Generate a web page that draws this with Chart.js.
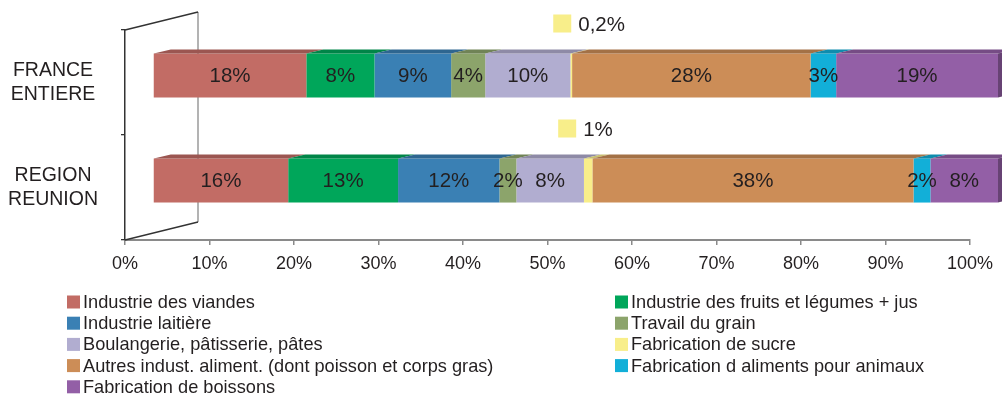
<!DOCTYPE html>
<html lang="fr">
<head>
<meta charset="utf-8">
<title>Répartition des effectifs IAA</title>
<script src="https://cdn.jsdelivr.net/npm/chart.js@4/dist/chart.umd.min.js"></script>
<style>
  html, body { margin: 0; padding: 0; background: #ffffff; }
  canvas { display: block; }
</style>
</head>
<body>
<canvas id="iaaChart" width="1002" height="399"></canvas>
<script>
// Zones comparées
const zones = [['FRANCE', 'ENTIERE'], ['REGION', 'REUNION']];

// Secteurs, dans l'ordre d'empilement
const secteurs = [
    'Industrie des viandes',
    'Industrie des fruits et légumes + jus',
    'Industrie laitière',
    'Travail du grain',
    'Boulangerie, pâtisserie, pâtes',
    'Fabrication de sucre',
    'Autres indust. aliment. (dont poisson et corps gras)',
    'Fabrication d aliments pour animaux',
    'Fabrication de boissons'
];

const couleurs = ['#c26c65', '#00a65a', '#3a80b4', '#8ca46b', '#b1add0', '#f8ee8a', '#cc8d57', '#12afd8', '#935fa6'];

// Parts en % (France entière, Réunion)
const viandes = [18, 16];
const fruitsLegumes = [8, 13];
const laitiere = [9, 12];
const grain = [4, 2];
const boulangerie = [10, 8];
const sucre = [0.2, 1];
const autres = [28, 38];
const animaux = [3, 2];
const boissons = [19, 8];

const xTicks = [0, 10, 20, 30, 40, 50, 60, 70, 80, 90, 100];

const series = [viandes, fruitsLegumes, laitiere, grain, boulangerie, sucre, autres, animaux, boissons];
const SUCRE = 5;

// barres à 100 % : chaque zone est ramenée à son total
const totaux = zones.map((z, j) => series.reduce((s, arr) => s + arr[j], 0));

Chart.defaults.font.family = '"Liberation Sans", Arial, sans-serif';
Chart.defaults.color = '#231f20';

const DEPTH = { x: 73, y: -18 };      // profondeur du mur
const FRONT = { x: 28, y: -7 };       // face avant des barres
const TOP = { x: 17, y: -4 };         // épaisseur des barres

function shade(hex, f) {
    const n = parseInt(hex.slice(1), 16);
    const r = Math.round(((n >> 16) & 255) * f);
    const g = Math.round(((n >> 8) & 255) * f);
    const b = Math.round((n & 255) * f);
    return 'rgb(' + r + ',' + g + ',' + b + ')';
}

function fmt(v) {
    return String(v).replace('.', ',') + '%';
}

const relief = {
    id: 'relief',
    beforeDatasetsDraw(chart) {
        const ctx = chart.ctx;
        const x0 = chart.scales.x.getPixelForValue(0);
        const top = chart.scales.y.top;
        const bottom = chart.scales.y.bottom;

        ctx.save();
        ctx.lineWidth = 1.3;
        ctx.strokeStyle = '#8a8a8a';
        ctx.beginPath();
        ctx.moveTo(x0 + DEPTH.x, top + DEPTH.y);
        ctx.lineTo(x0 + DEPTH.x, bottom + DEPTH.y);
        ctx.stroke();
        ctx.strokeStyle = '#333333';
        ctx.beginPath();
        ctx.moveTo(x0, top);
        ctx.lineTo(x0 + DEPTH.x, top + DEPTH.y);
        ctx.moveTo(x0, bottom);
        ctx.lineTo(x0 + DEPTH.x, bottom + DEPTH.y);
        ctx.stroke();
        ctx.restore();

        ctx.save();
        ctx.translate(FRONT.x, FRONT.y);
    },
    afterDatasetsDraw(chart) {
        const ctx = chart.ctx;
        const last = chart.data.datasets.length - 1;

        chart.data.datasets.forEach((ds, i) => {
            chart.getDatasetMeta(i).data.forEach((bar) => {
                const left = Math.min(bar.x, bar.base);
                const right = Math.max(bar.x, bar.base);
                const t = bar.y - bar.height / 2;
                const b = bar.y + bar.height / 2;

                ctx.fillStyle = shade(ds.backgroundColor, 0.8);
                ctx.beginPath();
                ctx.moveTo(left, t);
                ctx.lineTo(right, t);
                ctx.lineTo(right + TOP.x, t + TOP.y);
                ctx.lineTo(left + TOP.x, t + TOP.y);
                ctx.closePath();
                ctx.fill();

                if (i === last) {
                    ctx.fillStyle = shade(ds.backgroundColor, 0.7);
                    ctx.beginPath();
                    ctx.moveTo(right, t);
                    ctx.lineTo(right + TOP.x, t + TOP.y);
                    ctx.lineTo(right + TOP.x, b + TOP.y);
                    ctx.lineTo(right, b);
                    ctx.closePath();
                    ctx.fill();
                }
            });
        });

        // étiquettes dans les barres
        ctx.font = '20.5px "Liberation Sans", Arial, sans-serif';
        ctx.fillStyle = '#231f20';
        ctx.textAlign = 'center';
        ctx.textBaseline = 'middle';
        chart.data.datasets.forEach((ds, i) => {
            if (i === SUCRE) return;
            chart.getDatasetMeta(i).data.forEach((bar, j) => {
                ctx.fillText(fmt(series[i][j]), (bar.x + bar.base) / 2, bar.y + 1);
            });
        });

        // étiquettes du sucre, au-dessus des barres avec leur repère
        const shiftX = [-18, -30];
        chart.getDatasetMeta(SUCRE).data.forEach((bar, j) => {
            const cx = (bar.x + bar.base) / 2 + shiftX[j];
            const sy = bar.y - 61;
            ctx.fillStyle = couleurs[SUCRE];
            ctx.fillRect(cx, sy, 18, 18);
            ctx.fillStyle = '#231f20';
            ctx.textAlign = 'left';
            ctx.fillText(fmt(sucre[j]), cx + 25, sy + 11);
        });

        ctx.restore();
    },
    afterDraw(chart) {
        // légende sur deux colonnes
        const ctx = chart.ctx;
        ctx.save();
        ctx.font = '18.2px "Liberation Sans", Arial, sans-serif';
        ctx.textBaseline = 'middle';
        ctx.textAlign = 'left';
        chart.data.datasets.forEach((ds, i) => {
            const col = i % 2;
            const row = Math.floor(i / 2);
            const bx = col ? 615 : 67;
            const cy = 302 + row * 21.2;
            ctx.fillStyle = ds.backgroundColor;
            ctx.fillRect(bx, cy - 6.5, 13, 13);
            ctx.fillStyle = '#231f20';
            ctx.fillText(ds.label, bx + 16, cy + 1);
        });
        ctx.restore();
    }
};

const datasets = secteurs.map((nom, i) => ({
    label: nom,
    data: series[i].map((v, j) => v / totaux[j] * 100),
    backgroundColor: couleurs[i],
    borderWidth: 0,
    categoryPercentage: 1,
    barPercentage: 0.42,
    clip: false
}));

new Chart(document.getElementById('iaaChart').getContext('2d'), {
    type: 'bar',
    data: { labels: zones, datasets: datasets },
    options: {
        responsive: false,
        animation: false,
        indexAxis: 'y',
        layout: { padding: { top: 30, right: 32, bottom: 119, left: 0 } },
        scales: {
            x: {
                stacked: true,
                min: 0,
                max: 100,
                afterFit: (scale) => {
                    scale.height = 40;
                    scale.paddingLeft = 0;
                    scale.paddingRight = 0;
                },
                afterBuildTicks: (scale) => { scale.ticks = xTicks.map(v => ({ value: v })); },
                grid: { drawOnChartArea: false, drawTicks: true, tickLength: 5, color: '#8a8a8a', lineWidth: 1.5 },
                border: { display: true, color: '#8a8a8a', width: 2 },
                ticks: {
                    padding: 8,
                    font: { size: 18 },
                    callback: (v) => v + '%'
                }
            },
            y: {
                stacked: true,
                afterFit: (scale) => {
                    scale.width = 125;
                    scale.paddingTop = 0;
                    scale.paddingBottom = 0;
                },
                grid: { drawOnChartArea: false, drawTicks: true, tickLength: 4, color: '#333333', lineWidth: 1.3, offset: true },
                border: { display: true, color: '#333333', width: 1.5 },
                ticks: {
                    crossAlign: 'center',
                    padding: 23,
                    font: { size: 19.5, lineHeight: 1.2 }
                }
            }
        },
        plugins: {
            legend: { display: false },
            tooltip: { enabled: false }
        }
    },
    plugins: [relief]
});
</script>
</body>
</html>
